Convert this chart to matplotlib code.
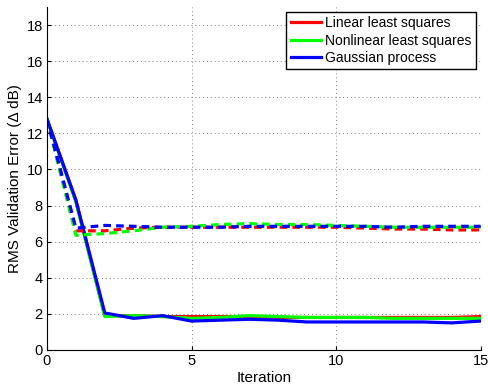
import matplotlib
matplotlib.use("Agg")
import matplotlib.pyplot as plt
import numpy as np

plt.rcParams['font.family'] = ['Liberation Sans', 'DejaVu Sans']

iterations = list(range(16))

# RMS validation error (solid: validation, dashed: second measure)
linear_solid = [12.8, 8.3, 1.9, 1.9, 1.85, 1.85, 1.85, 1.85, 1.8, 1.8, 1.8, 1.8, 1.8, 1.8, 1.8, 1.85]
nonlinear_solid = [12.8, 8.2, 1.85, 1.9, 1.85, 1.75, 1.8, 1.9, 1.85, 1.8, 1.8, 1.8, 1.75, 1.75, 1.75, 1.75]
gp_solid = [12.8, 8.3, 2.05, 1.75, 1.9, 1.6, 1.65, 1.7, 1.65, 1.55, 1.55, 1.55, 1.55, 1.55, 1.5, 1.6]

linear_dashed = [12.8, 6.6, 6.6, 6.75, 6.8, 6.8, 6.8, 6.8, 6.8, 6.8, 6.8, 6.75, 6.7, 6.7, 6.65, 6.65]
nonlinear_dashed = [12.8, 6.35, 6.45, 6.6, 6.8, 6.85, 6.95, 7.0, 6.95, 6.95, 6.9, 6.85, 6.8, 6.8, 6.8, 6.8]
gp_dashed = [12.8, 6.75, 6.9, 6.85, 6.8, 6.8, 6.8, 6.85, 6.85, 6.85, 6.85, 6.85, 6.8, 6.85, 6.85, 6.85]

series_names = ["Linear least squares", "Nonlinear least squares", "Gaussian process"]
colors = ["#ff0000", "#00ff00", "#0000ff"]

fig = plt.figure(figsize=(4.89, 3.91), dpi=100)
ax = fig.add_axes([0.096, 0.105, 0.887, 0.877])

lw = 2.3
for ys, c, name in zip([linear_solid, nonlinear_solid, gp_solid], colors, series_names):
    ax.plot(iterations, ys, color=c, lw=lw, label=name)
for ys, c in zip([linear_dashed, nonlinear_dashed, gp_dashed], colors):
    ax.plot(iterations, ys, color=c, lw=lw, linestyle=(0, (2.4, 1.6)))

ax.set_xlim(0, 15)
ax.set_ylim(0, 19)
ax.set_xticks([0, 5, 10, 15])
ax.set_yticks(np.arange(0, 19, 2))
ax.tick_params(direction='in', labelsize=10.5, length=3, pad=3)
ax.grid(True, linestyle=(0, (1, 3)), color='#808080', lw=0.7)
ax.spines['top'].set_visible(False)
ax.spines['right'].set_visible(False)

ax.set_xlabel("Iteration", fontsize=11, labelpad=2)
ax.set_ylabel("RMS Validation Error (Δ dB)", fontsize=11, labelpad=3)

leg = ax.legend(loc='upper right', fontsize=10, fancybox=False, framealpha=1,
                edgecolor='black', borderaxespad=0.35, handlelength=2.2,
                borderpad=0.3, labelspacing=0.25, handletextpad=0.3)
leg.get_frame().set_linewidth(1.0)

fig.savefig("out.png", dpi=100)
